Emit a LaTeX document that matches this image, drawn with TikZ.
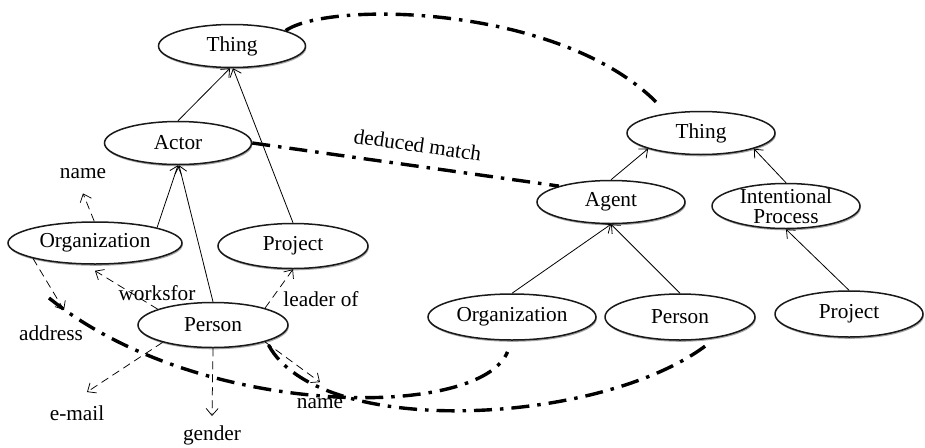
\documentclass[tikz,border=0pt]{standalone}
\usepackage{fontspec}
\setmainfont{Liberation Serif}
\usetikzlibrary{arrows.meta,shapes.geometric,shadows}
\begin{document}
\begin{tikzpicture}[x=1pt,y=-1pt,
  ent/.style={ellipse, draw=black!90, line width=1.5pt, fill=white, inner sep=0pt,
    font=\fontsize{21.3}{20.5}\selectfont, align=center,
    drop shadow={shadow xshift=0.8pt, shadow yshift=-1.8pt, opacity=0.35, fill=black}},
  lbl/.style={inner sep=2pt, font=\fontsize{21.3}{24}\selectfont},
  isa/.style={line width=0.8pt, -{Straight Barb[length=7pt,width=12pt]}},
  prop/.style={line width=0.75pt, dash pattern=on 8pt off 5pt, -{Straight Barb[length=7pt,width=12pt]}},
  match/.style={line width=3.4pt, dash pattern=on 18pt off 8pt on 3.5pt off 8pt}]
\useasboundingbox (0,0) rectangle (925,447);

% left ontology
\node[ent, minimum width=147pt, minimum height=43pt] (thingL) at (232,46) {Thing};
\node[ent, minimum width=147pt, minimum height=43pt] (actor) at (178,143) {Actor};
\node[ent, minimum width=174pt, minimum height=42pt] (orgL) at (95,243) {Organization};
\node[ent, minimum width=150pt, minimum height=45pt] (projL) at (293,246) {Project};
\node[ent, minimum width=150pt, minimum height=45pt] (personL) at (213,325) {Person};

% right ontology
\node[ent, minimum width=148pt, minimum height=43pt] (thingR) at (701,133) {Thing};
\node[ent, minimum width=148pt, minimum height=43pt] (agent) at (611,202) {Agent};
\node[ent, minimum width=148pt, minimum height=45pt, inner ysep=-5pt] (ip) at (786,206) {Intentional\\Process};
\node[ent, minimum width=168pt, minimum height=46pt] (orgR) at (512,317) {Organization};
\node[ent, minimum width=150pt, minimum height=46pt] (personR) at (680,317) {Person};
\node[ent, minimum width=148pt, minimum height=46pt] (projR) at (849,314) {Project};

% property labels
\node[lbl, anchor=base] (nameO) at (83,178) {name};
\node[lbl, anchor=base] (addr) at (51,340) {address};
\node[lbl, anchor=base] (wf) at (157,300) {worksfor};
\node[lbl, anchor=base] (ldr) at (321,306) {leader of};
\node[lbl, anchor=base] (email) at (77,420) {e-mail};
\node[lbl, anchor=base] (gender) at (212,440) {gender};
\node[lbl, anchor=base] (nameP) at (320,408) {name};

% is-a arrows
\draw[isa] (actor.north) -- ([xshift=-2pt]thingL.south);
\draw[isa] (projL.north) -- ([xshift=1pt]thingL.south);
\draw[isa] (orgL.north east) -- (actor.south);
\draw[isa] (personL.north) -- ([xshift=1pt]actor.south);
\draw[isa] (agent.north) -- (thingR.south west);
\draw[isa] (ip.north) -- (thingR.south east);
\draw[isa] (orgR.north) -- (agent.south);
\draw[isa] (personR.north) -- (agent.south);
\draw[isa] (projR.north) -- (ip.south);

% property arrows
\draw[prop] (orgL.92) -- ([yshift=-13pt]nameO.south);
\draw[prop] (orgL.south west) -- ([xshift=13pt,yshift=13pt]addr.north);
\draw[prop] (personL.164) -- ([yshift=-6pt]orgL.south);
\draw[prop] (personL.18) -- (projL.south);
\draw[prop] (personL.199) -- ([xshift=10pt,yshift=11pt]email.north);
\draw[prop] (personL.south) -- ([yshift=7pt]gender.north);
\draw[prop] (personL.-18) -- ([yshift=13.6pt]nameP.north);

% matches
\draw[match, shorten >=10pt] (thingL.16) .. controls (330,0) and (565,5) .. (thingR.150);
\draw[match] (actor.east) -- (agent.163)
  node[lbl, sloped, above=10pt, pos=0.53] (dm) {deduced match};
\coordinate (orgLm) at (49,298);
\draw[match, shorten >=12pt] (orgLm) .. controls (200,420) and (480,420) .. (orgR.south);
\draw[match, shorten <=4pt, shorten >=13pt] (personL.south east) .. controls (320,440) and (600,425) .. (personR.-30);
\end{tikzpicture}
\end{document}
